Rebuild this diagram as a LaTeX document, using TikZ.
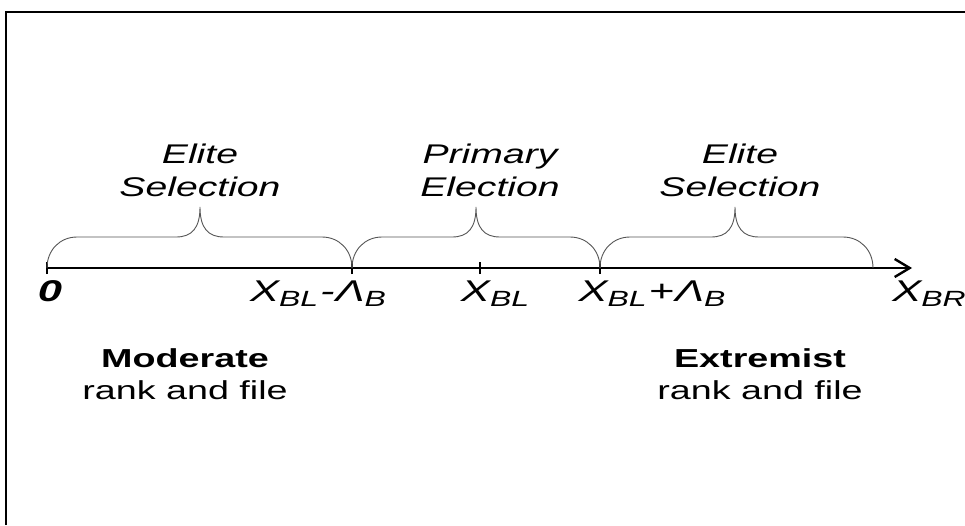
\documentclass[tikz,border=0pt]{standalone}
\usepackage{fontspec}
\setmainfont{Liberation Sans}[FakeStretch=1.45]
\usetikzlibrary{arrows.meta}
\newcommand\lsub[1]{\raisebox{-0.32ex}{\fontsize{22}{22}\selectfont #1}}
\newcommand\mybrace[3]{%
  \draw[bracestyle] (#1,268) .. controls (#1,250) and ({#1+13},237) .. ({#1+30},237)
    -- ({#2-24},237) .. controls ({#2-8},237) and (#2,228) .. (#2,207)
    .. controls (#2,228) and ({#2+8},237) .. ({#2+24},237)
    -- ({#3-30},237) .. controls ({#3-13},237) and (#3,250) .. (#3,268);}
\begin{document}
\begin{tikzpicture}[x=1pt,y=-1pt,
  bracestyle/.style={draw={rgb,255:red,85;green,85;blue,85},line width=0.9pt},
  axisline/.style={line width=2.6pt,line cap=butt},
  tickmark/.style={line width=2.2pt},
  toplabel/.style={font=\fontsize{27}{33}\selectfont\itshape,align=center,anchor=base,inner sep=0pt},
  axlabel/.style={font=\fontsize{30}{30}\selectfont\itshape,anchor=base,inner sep=0pt},
  botlabel/.style={font=\fontsize{26}{32}\selectfont,align=center,anchor=base,inner sep=0pt}]
\useasboundingbox (0,0) rectangle (965,525);
% frame
\draw[line width=1.6pt] (6,525) -- (6,12) -- (965,12);
% axis
\coordinate (o) at (47,268);
\coordinate (a) at (352,268);
\coordinate (c) at (480,268);
\coordinate (b) at (600,268);
\coordinate (e) at (912,268);
\draw[axisline,-{Straight Barb[length=15pt,width=18pt,line width=2.4pt]}] (o) -- (e);
\foreach \p in {o,a,c,b}{\draw[tickmark] ([yshift=-6pt]\p) -- ([yshift=6pt]\p);}
% braces
\mybrace{47}{200}{352}
\mybrace{352}{476}{600}
\mybrace{600}{735}{873}
% brace labels
\node[toplabel] (t1) at (200,196) {Elite\\Selection};
\node[toplabel] (t2) at (490,196) {Primary\\Election};
\node[toplabel] (t3) at (740,196) {Elite\\Selection};
% axis labels
\node[axlabel] (l0) at (50,301) {\textbf{0}};
\node[axlabel] (l1) at (318,301) {X\lsub{BL}\kern2pt-\kern1pt Λ\lsub{B}};
\node[axlabel] (l2) at (495,301) {X\lsub{BL}};
\node[axlabel] (l3) at (652,301) {X\lsub{BL}\kern2pt+\kern1pt Λ\lsub{B}};
\node[axlabel] (l4) at (929,301) {X\lsub{BR}};
% bottom labels
\node[botlabel] (m) at (185,399) {\textbf{Moderate}\\rank and file};
\node[botlabel] (x) at (760,399) {\textbf{Extremist}\\rank and file};
\end{tikzpicture}
\end{document}
